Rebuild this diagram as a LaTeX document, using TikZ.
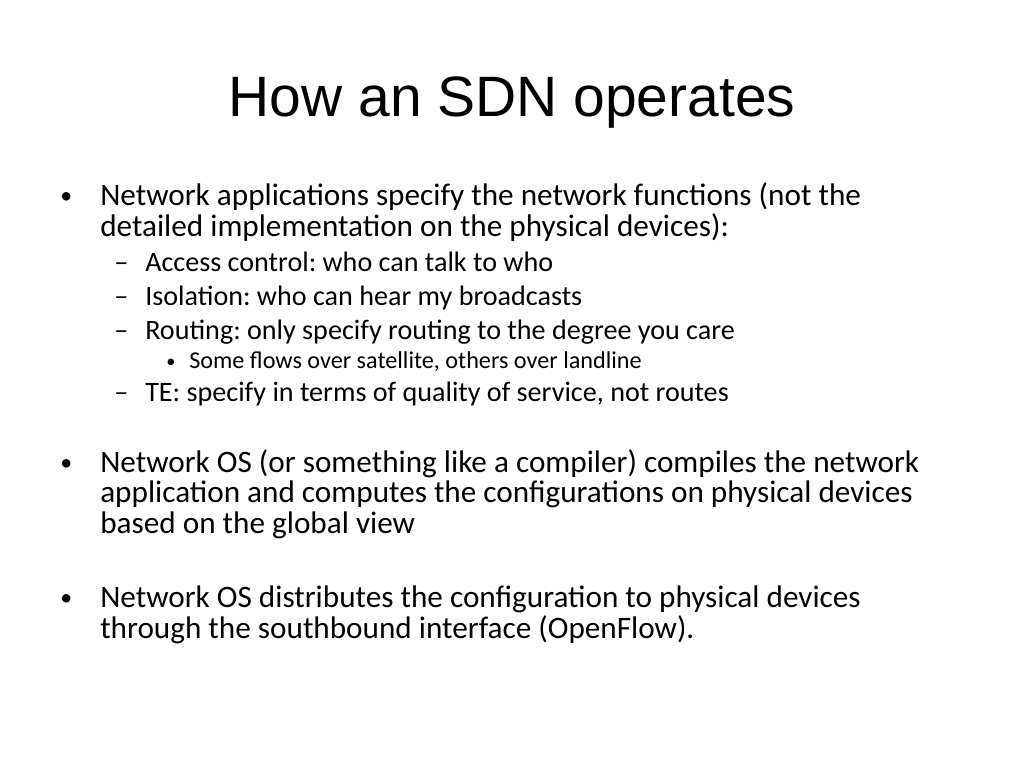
\documentclass[tikz,border=0pt]{standalone}
\usepackage{fontspec}
\setmainfont{Carlito}
\newfontfamily\titlefont{Liberation Sans}
\frenchspacing
\usetikzlibrary{positioning}
\begin{document}
\begin{tikzpicture}[x=0.025cm,y=-0.025cm,
  txt/.style={anchor=base west,inner sep=0pt,font=\fontsize{22.2}{26}\selectfont},
  subtxt/.style={anchor=base west,inner sep=0pt,font=\fontsize{20}{24}\selectfont},
  subsubtxt/.style={anchor=base west,inner sep=0pt,font=\fontsize{17.2}{20}\selectfont},
  dot/.style={anchor=base west,inner sep=0pt,font=\fontsize{17}{20}\selectfont}]
  \useasboundingbox[fill=white] (0,0) rectangle (1024,768);
  \node[anchor=base,inner sep=0pt,font=\titlefont\fontsize{40.5}{48}\selectfont] (title) at (512,117) {How an SDN operates};
  % first bullet
  \node[dot] (b1) at (60,203) {\textbullet};
  \node[txt] (l1) at (100,205) {Network applications specify the network functions (not the};
  \node[txt] (l2) at (100,236) {detailed implementation on the physical devices):};
  \node[subtxt] (d1) at (114,271) {–};
  \node[subtxt] (s1) at (145,271) {Access control: who can talk to who};
  \node[subtxt] (d2) at (114,305) {–};
  \node[subtxt] (s2) at (145,305) {Isolation: who can hear my broadcasts};
  \node[subtxt] (d3) at (114,339) {–};
  \node[subtxt] (s3) at (145,339) {Routing: only specify routing to the degree you care};
  \node[dot,font=\fontsize{13}{15}\selectfont] (bb) at (166,367) {\textbullet};
  \node[subsubtxt] (ss) at (189,368) {Some flows over satellite, others over landline};
  \node[subtxt] (d4) at (114,401) {–};
  \node[subtxt] (s4) at (145,401) {TE: specify in terms of quality of service, not routes};
  % second bullet
  \node[dot] (b2) at (60,470) {\textbullet};
  \node[txt] (m1) at (100,472) {Network OS (or something like a compiler) compiles the network};
  \node[txt] (m2) at (100,502) {application and computes the configurations on physical devices};
  \node[txt] (m3) at (100,533) {based on the global view};
  % third bullet
  \node[dot] (b3) at (60,605) {\textbullet};
  \node[txt] (n1) at (100,607) {Network OS distributes the configuration to physical devices};
  \node[txt] (n2) at (100,638) {through the southbound interface (OpenFlow).};
\end{tikzpicture}
\end{document}
